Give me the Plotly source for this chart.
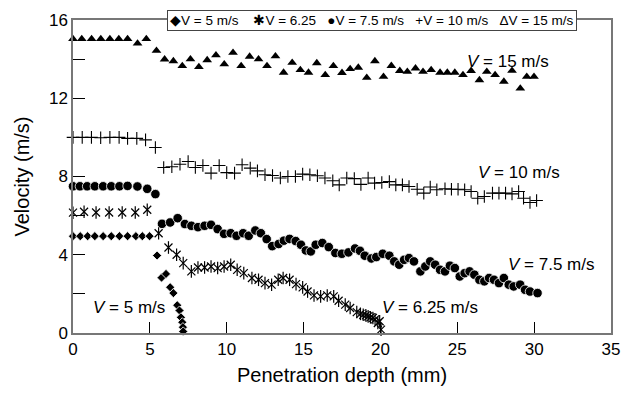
import plotly.graph_objects as go

# ---- data ----
v5_depth = [0, 0.47, 0.95, 1.42, 1.96, 2.49, 3.02, 3.55, 4.09, 4.51, 4.98,
            5.47, 5.76, 6.05, 6.32, 6.53, 6.78, 6.93, 7.02, 7.11, 7.15, 7.17]
v5_vel = [4.95, 4.95, 4.95, 4.95, 4.95, 4.95, 4.95, 4.95, 4.95, 4.95, 4.95,
          3.96, 2.83, 3.02, 2.34, 2.04, 1.42, 1.15, 0.8, 0.55, 0.3, 0.08]

v625_depth = [0, 0.72, 1.5, 2.35, 3.2, 4.05, 4.83,
              5.57, 6.21, 6.74, 7.17, 7.7, 8.13, 8.56, 8.98, 9.41, 9.83, 10.26, 10.68,
              11.11, 11.64, 12.07, 12.49, 12.92, 13.35, 13.67, 14.09, 14.51, 14.94,
              15.26, 15.68, 16.11, 16.54, 16.96, 17.28, 17.71, 18.03, 18.46, 18.7,
              18.88, 19.05, 19.2, 19.35, 19.51, 19.65, 19.83, 19.95, 20.04]
v625_vel = [6.15, 6.2, 6.16, 6.16, 6.16, 6.16, 6.3,
            5.1, 4.37, 4.0, 3.57, 3.15, 3.35, 3.35, 3.4, 3.32, 3.4, 3.49, 3.23,
            3.06, 2.81, 2.72, 2.55, 2.47, 2.72, 2.81, 2.72, 2.5, 2.33,
            2.12, 1.92, 1.87, 1.92, 1.87, 1.65, 1.45, 1.28, 1.07, 0.98,
            0.93, 0.9, 0.85, 0.8, 0.77, 0.7, 0.51, 0.6, 0.17]

v75_depth = [0, 0.45, 0.92, 1.42, 1.96, 2.49, 3.02, 3.55, 4.19, 4.83, 5.36,
             5.79, 6.32, 6.81, 7.28, 7.7, 8.13, 8.56, 8.98, 9.41, 9.83, 10.26, 10.64,
             11.07, 11.43, 11.86, 12.22, 12.6, 12.96, 13.38, 13.72, 14.09, 14.49, 14.83,
             15.15, 15.47, 15.79, 16.22, 16.64, 17.07, 17.49, 17.92, 18.35, 18.67, 18.98,
             19.41, 19.73, 20.15, 20.58, 20.9, 21.22, 21.54, 21.86, 22.18, 22.6, 22.92,
             23.24, 23.56, 23.88, 24.2, 24.52, 24.84, 25.16, 25.48, 25.8, 26.11, 26.44,
             26.76, 27.07, 27.39, 27.71, 28.03, 28.35, 28.67, 29.09, 29.41, 29.73, 30.22]
v75_vel = [7.5, 7.5, 7.5, 7.5, 7.5, 7.5, 7.5, 7.52, 7.49, 7.37, 7.1,
           5.58, 5.65, 5.87, 5.57, 5.48, 5.41, 5.48, 5.53, 5.31, 5.07, 5.1, 4.97,
           5.1, 4.97, 5.24, 5.1, 4.8, 4.44, 4.55, 4.72, 4.81, 4.7, 4.51,
           4.22, 4.17, 4.51, 4.6, 4.39, 4.09, 4.05, 4.12, 4.32, 4.2, 3.95,
           3.81, 3.88, 4.05, 3.95, 3.66, 3.49, 3.74, 3.83, 3.66, 3.15, 3.4,
           3.66, 3.49, 3.23, 3.15, 3.44, 3.32, 2.89, 3.06, 3.15, 2.98, 2.72,
           2.64, 2.81, 2.72, 2.55, 2.81, 2.47, 2.38, 2.47, 2.21, 2.12, 2.04]

v10_depth = [0, 0.6, 1.2, 1.8, 2.4, 3.0, 3.55, 4.15, 4.72, 5.36,
             5.9, 6.43, 6.96, 7.49, 7.96, 8.45, 8.98, 9.51, 10.0, 10.51, 11.0, 11.53,
             12.0, 12.49, 12.98, 13.49, 13.98, 14.47, 14.94, 15.41, 15.9, 16.39, 16.9,
             17.32, 17.81, 18.3, 18.73, 19.2, 19.62, 20.09, 20.58, 21.0, 21.43, 21.86,
             22.39, 22.82, 23.24, 23.67, 24.2, 24.62, 25.05, 25.48, 25.9, 26.33, 26.76,
             27.29, 27.71, 28.14, 28.56, 28.99, 29.31, 29.73, 30.16]
v10_vel = [10.0, 10.0, 10.0, 9.98, 10.0, 10.0, 9.95, 9.95, 9.87, 9.48,
           8.46, 8.5, 8.63, 8.77, 8.46, 8.56, 8.17, 8.56, 8.2, 8.17, 8.6, 8.43,
           8.29, 8.09, 8.05, 7.92, 8.0, 8.0, 8.12, 8.09, 8.04, 7.92, 7.78,
           7.57, 7.92, 7.89, 7.6, 7.92, 7.66, 7.69, 7.74, 7.57, 7.57, 7.49,
           7.35, 7.15, 7.46, 7.32, 7.37, 7.35, 7.35, 7.32, 7.23, 6.89, 6.98,
           7.15, 7.15, 7.15, 7.11, 7.23, 6.89, 6.67, 6.77]

v15_depth = [0, 0.57, 1.21, 1.81, 2.4, 2.98, 3.55, 4.2, 4.77, 5.43,
             5.96, 6.53, 7.11, 7.64, 8.19, 8.73, 9.3, 9.84, 10.41, 10.94, 11.49, 12.07,
             12.62, 13.17, 13.7, 14.26, 14.79, 15.32, 15.86, 16.41, 16.94, 17.5, 18.03,
             18.56, 19.11, 19.64, 20.2, 20.71, 21.26, 21.75, 22.28, 22.77, 23.3, 23.88,
             24.35, 24.84, 25.37, 25.9, 26.44, 26.92, 27.46, 28.03, 28.56, 29.1, 29.52, 29.99]
v15_vel = [15.03, 15.03, 15.03, 15.03, 15.03, 15.03, 15.03, 14.8, 15.03, 14.43,
           13.99, 13.9, 13.65, 14.0, 13.6, 13.95, 14.2, 13.74, 14.33, 13.65, 14.13, 14.0,
           13.65, 14.15, 13.31, 13.82, 13.45, 13.31, 13.8, 13.19, 13.65, 13.3, 13.5,
           13.57, 13.05, 13.9, 13.1, 13.66, 13.4, 13.36, 13.53, 13.36, 13.45, 13.31,
           13.31, 13.31, 13.19, 13.4, 12.93, 13.36, 13.19, 12.85, 13.41, 12.5, 13.1, 13.1]

x_ticks = [0, 5, 10, 15, 20, 25, 30, 35]
y_ticks = [0, 4, 8, 12, 16]

legend_text = ("◆V = 5 m/s    ✱V = 6.25   ●V = 7.5 m/s   "
               "+V = 10 m/s   ΔV = 15 m/s")
curve_labels = [
    ("<i>V</i> = 5 m/s", 1.2, 1.3),
    ("<i>V</i> = 6.25 m/s", 20.0, 1.3),
    ("<i>V</i> = 7.5 m/s", 28.2, 3.5),
    ("<i>V</i> = 10 m/s", 26.2, 8.2),
    ("<i>V</i> = 15 m/s", 25.5, 13.9),
]

FONT = "Liberation Sans, Arial, Helvetica, sans-serif"

fig = go.Figure()

# V = 5 diamonds
fig.add_trace(go.Scatter(x=v5_depth, y=v5_vel, mode="markers", cliponaxis=False,
                         marker=dict(symbol="diamond", size=7, color="black",
                                     line=dict(color="white", width=0.8))))
# V = 6.25 asterisks (x + vertical bar)
fig.add_trace(go.Scatter(x=v625_depth, y=v625_vel, mode="markers", cliponaxis=False,
                         marker=dict(symbol="x-thin-open", size=8, color="black",
                                     line=dict(color="black", width=1.2))))
fig.add_trace(go.Scatter(x=v625_depth, y=v625_vel, mode="markers", cliponaxis=False,
                         marker=dict(symbol="line-ns-open", size=9, color="black",
                                     line=dict(color="black", width=1.2))))
# V = 7.5 circles
fig.add_trace(go.Scatter(x=v75_depth, y=v75_vel, mode="markers", cliponaxis=False,
                         marker=dict(symbol="circle", size=9.5, color="black",
                                     line=dict(color="white", width=0.8))))
# V = 10 plus
fig.add_trace(go.Scatter(x=v10_depth, y=v10_vel, mode="markers", cliponaxis=False,
                         marker=dict(symbol="cross-thin-open", size=9, color="black",
                                     line=dict(color="black", width=1.1))))
# V = 15 triangles
fig.add_trace(go.Scatter(x=v15_depth, y=v15_vel, mode="markers", cliponaxis=False,
                         marker=dict(symbol="triangle-up", size=8.5, color="black",
                                     line=dict(width=0))))

for txt, xx, yy in curve_labels:
    fig.add_annotation(x=xx, y=yy, text=txt, showarrow=False, xanchor="left",
                       yanchor="middle", font=dict(family=FONT, size=17, color="black"))

fig.add_annotation(x=0.555, y=1.0, xref="paper", yref="paper", text=legend_text,
                   showarrow=False, xanchor="center", yanchor="middle",
                   bgcolor="white", bordercolor="#444", borderwidth=1, borderpad=2,
                   font=dict(family=FONT, size=13.5, color="black"))

fig.update_layout(
    width=630, height=395,
    margin=dict(l=73, r=10, t=20, b=62),
    paper_bgcolor="white", plot_bgcolor="white",
    showlegend=False,
    font=dict(family=FONT, color="black"),
    xaxis=dict(range=[0, 35], tickvals=x_ticks, ticks="inside", ticklen=11,
               tickcolor="black", tickwidth=1,
               showgrid=False, zeroline=False, showline=True, linecolor="#777",
               linewidth=1.5, mirror=True, tickfont=dict(size=17),
               title=dict(text="Penetration depth (mm)", font=dict(size=20), standoff=10)),
    yaxis=dict(range=[0, 16], tickvals=y_ticks, ticks="inside", ticklen=12,
               tickcolor="black", tickwidth=1,
               minor=dict(tickvals=[2, 6, 10, 14], ticks="inside", ticklen=12,
                          tickcolor="black", tickwidth=1),
               showgrid=False, zeroline=False, showline=True, linecolor="#777",
               linewidth=1.5, mirror=True, tickfont=dict(size=17),
               title=dict(text="Velocity (m/s)", font=dict(size=20), standoff=14)),
)

fig.write_html("out.html")
